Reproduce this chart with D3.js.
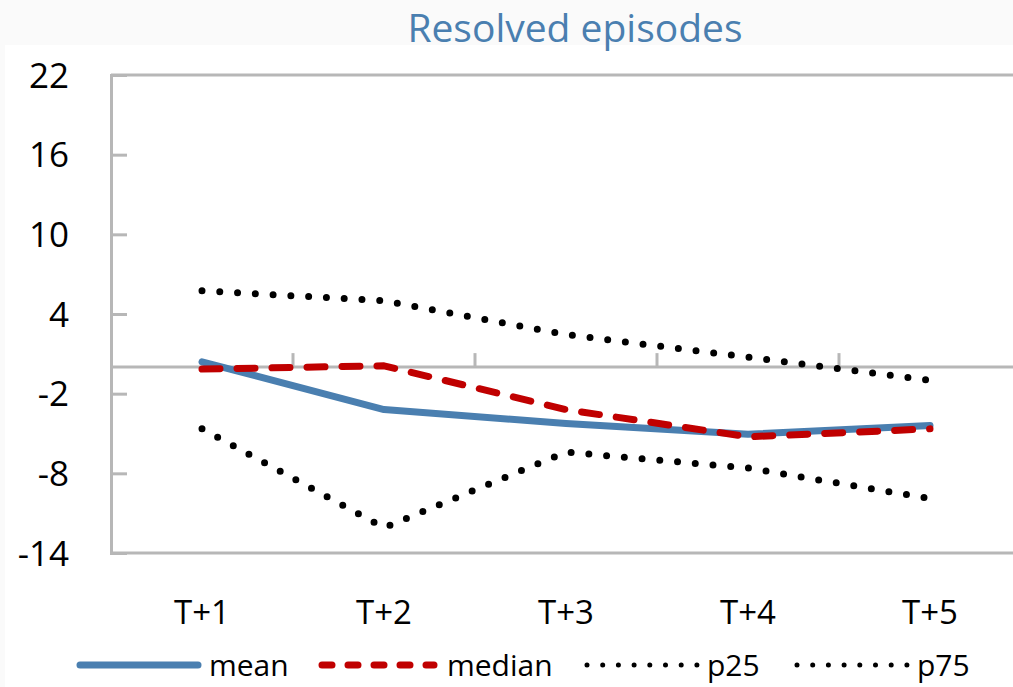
<!DOCTYPE html>
<html>
<head>
<meta charset="utf-8">
<script src="https://cdn.jsdelivr.net/npm/d3@7"></script>
<style>
  html, body { margin: 0; padding: 0; background: #fafafa; }
  svg { display: block; font-family: "Open Sans", "Noto Sans", sans-serif; }
</style>
</head>
<body>
<div id="chart"></div>
<script>
// === DATA ===
const categories = ["T+1", "T+2", "T+3", "T+4", "T+5"];
const meanValues = [0.4, -3.2, -4.25, -5.05, -4.4];
const medianValues = [-0.15, 0.1, -3.2, -5.25, -4.65];
const p25Values = [-4.65, -12.1, -6.4, -7.6, -9.9];
const p75Values = [5.75, 5.0, 2.45, 0.75, -1.0];
const yTicks = [22, 16, 10, 4, -2, -8, -14];

const series = [
    { name: "mean", values: meanValues, color: "#4a7fb0", dash: null, width: 7, cap: "round" },
    { name: "median", values: medianValues, color: "#c00000", dash: "18,17", width: 7, cap: "round" },
    { name: "p25", values: p25Values, color: "#000", dash: "0,17.8", width: 7, cap: "round" },
    { name: "p75", values: p75Values, color: "#000", dash: "0,17.8", width: 7, cap: "round" }
];

// === LAYOUT ===
const width = 1013, height = 687;
const plotLeft = 111, plotRight = 1021, plotTop = 75, plotBottom = 553;
const gray = "#b7b7b7";

const svg = d3.select("#chart").append("svg")
    .attr("width", width)
    .attr("height", height);

// light page background with white chart area
svg.append("rect")
    .attr("x", 5).attr("y", 45)
    .attr("width", width).attr("height", height)
    .attr("fill", "#fff");

const x = d3.scaleBand().domain(categories).range([plotLeft, plotRight]);
const y = d3.scaleLinear().domain([-14, 22]).range([plotBottom, plotTop]);

// title
svg.append("text")
    .attr("x", 575).attr("y", 42)
    .attr("text-anchor", "middle")
    .attr("fill", "#4a7fb0")
    .attr("font-size", 39)
    .text("Resolved episodes");

// plot frame (top and bottom)
svg.append("line").attr("x1", plotLeft).attr("x2", width).attr("y1", plotTop).attr("y2", plotTop)
    .attr("stroke", gray).attr("stroke-width", 3);
svg.append("line").attr("x1", plotLeft).attr("x2", width).attr("y1", plotBottom).attr("y2", plotBottom)
    .attr("stroke", gray).attr("stroke-width", 3);

// y axis: ticks pointing inward
const yAxis = svg.append("g")
    .attr("transform", `translate(${plotLeft},0)`)
    .call(d3.axisLeft(y).tickValues(yTicks).tickSize(-16).tickPadding(0).tickFormat(d => String(d)));
yAxis.select(".domain").attr("stroke", gray).attr("stroke-width", 3);
yAxis.selectAll(".tick line").attr("stroke", gray).attr("stroke-width", 3);
yAxis.selectAll(".tick text")
    .attr("x", -42)
    .attr("dy", "0.35em")
    .attr("fill", "#000")
    .attr("font-size", 35)
    .attr("font-family", "'Open Sans', sans-serif");

// x axis at zero with upward tick marks at band edges
svg.append("line")
    .attr("x1", plotLeft).attr("x2", width)
    .attr("y1", y(0)).attr("y2", y(0))
    .attr("stroke", gray).attr("stroke-width", 3);
svg.selectAll(".xtick")
    .data(categories.slice(1))
    .enter().append("line")
    .attr("class", "xtick")
    .attr("x1", d => x(d)).attr("x2", d => x(d))
    .attr("y1", y(0)).attr("y2", y(0) - 14)
    .attr("stroke", gray).attr("stroke-width", 3);

// category labels below plot
svg.selectAll(".xlabel")
    .data(categories)
    .enter().append("text")
    .attr("class", "xlabel")
    .attr("x", d => x(d) + x.bandwidth() / 2)
    .attr("y", 624)
    .attr("text-anchor", "middle")
    .attr("font-size", 33)
    .attr("fill", "#000")
    .text(d => d);

// === LINES ===
const line = d3.line()
    .x((d, i) => x(categories[i]) + x.bandwidth() / 2)
    .y(d => y(d));

// draw dotted first, then mean, then median on top
const drawOrder = [series[2], series[3], series[0], series[1]];
svg.selectAll(".series")
    .data(drawOrder)
    .enter().append("path")
    .attr("class", "series")
    .attr("d", d => line(d.values))
    .attr("fill", "none")
    .attr("stroke", d => d.color)
    .attr("stroke-width", d => d.width)
    .attr("stroke-linecap", d => d.cap)
    .attr("stroke-linejoin", "round")
    .attr("stroke-dasharray", d => d.dash);

// === LEGEND ===
const legendY = 665;
const legendItems = [
    { s: series[0], x0: 80, x1: 198, tx: 209 },
    { s: series[1], x0: 322, x1: 434, tx: 447 },
    { s: series[2], x0: 587, x1: 697, tx: 707 },
    { s: series[3], x0: 797, x1: 907, tx: 917 }
];
const legend = svg.append("g");
legendItems.forEach(item => {
    legend.append("line")
        .attr("x1", item.x0).attr("x2", item.x1)
        .attr("y1", legendY).attr("y2", legendY)
        .attr("stroke", item.s.color)
        .attr("stroke-width", item.s.name === "mean" || item.s.name === "median" ? 7 : 5)
        .attr("stroke-linecap", item.s.cap)
        .attr("stroke-dasharray", item.s.name === "median" ? "10,16" : (item.s.name === "mean" ? null : "0,15.7"));
    legend.append("text")
        .attr("x", item.tx).attr("y", legendY + 11)
        .attr("font-size", 30)
        .attr("fill", "#000")
        .text(item.s.name);
});
</script>
</body>
</html>
